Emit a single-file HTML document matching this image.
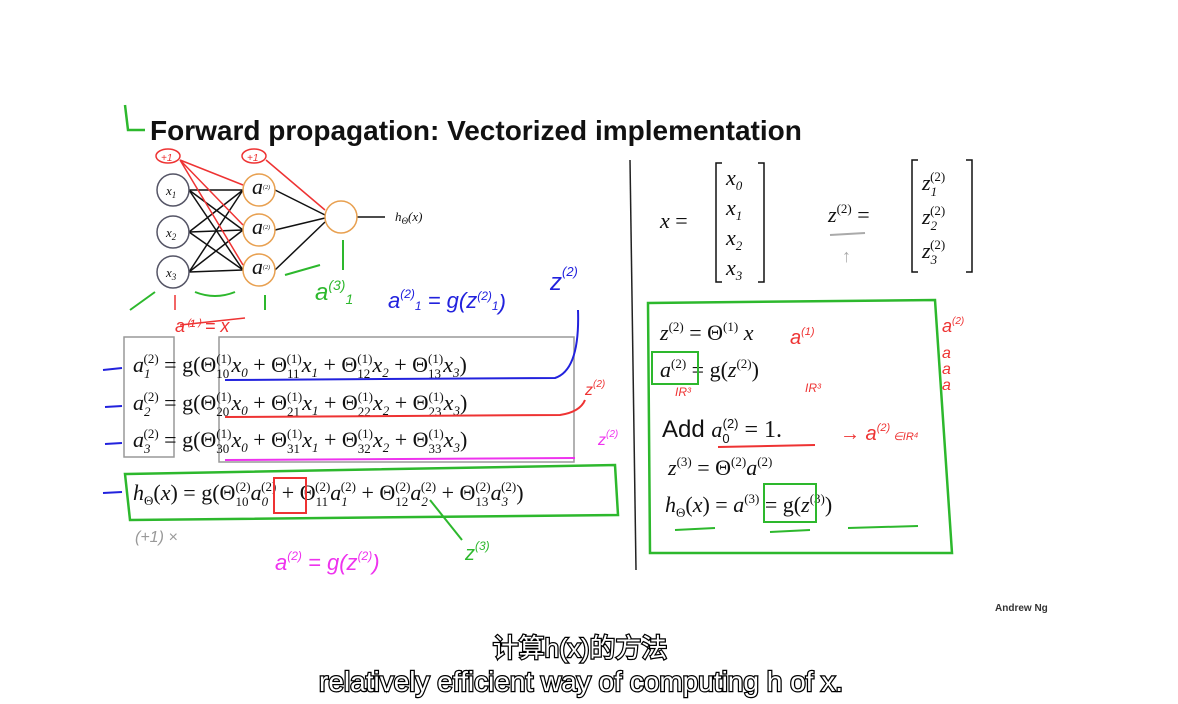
<!DOCTYPE html>
<html><head><meta charset="utf-8"><style>
html,body{margin:0;padding:0;background:#fff;}
svg{display:block}
.m{font-family:"Liberation Serif",serif;font-style:italic;font-size:22px;fill:#111}
.s{font-size:13px}
.hand{font-family:"Liberation Sans",sans-serif;font-style:italic}
</style></head><body>
<svg width="1178" height="704" viewBox="0 0 1178 704" xmlns="http://www.w3.org/2000/svg">
<rect width="1178" height="704" fill="#fff"/>
<path d="M125 105 L128 130 L145 130" stroke="#2db82d" stroke-width="2.5" fill="none"/>
<text x="150" y="140" font-family="Liberation Sans,sans-serif" font-weight="bold" font-size="28" fill="#111">Forward propagation: Vectorized implementation</text>
<line x1="630" y1="160" x2="636" y2="570" stroke="#222" stroke-width="1.5"/>

<g stroke="#111" stroke-width="1.5">
<line x1="189" y1="190" x2="243" y2="190"/><line x1="189" y1="190" x2="243" y2="230"/><line x1="189" y1="190" x2="243" y2="270"/>
<line x1="189" y1="232" x2="243" y2="190"/><line x1="189" y1="232" x2="243" y2="230"/><line x1="189" y1="232" x2="243" y2="270"/>
<line x1="189" y1="272" x2="243" y2="190"/><line x1="189" y1="272" x2="243" y2="230"/><line x1="189" y1="272" x2="243" y2="270"/>
<line x1="275" y1="190" x2="325" y2="215"/><line x1="275" y1="230" x2="325" y2="218"/><line x1="275" y1="270" x2="325" y2="222"/>
<line x1="357" y1="217" x2="385" y2="217"/>
</g>
<g fill="#fff" stroke-width="1.5">
<circle cx="173" cy="190" r="16" stroke="#556"/>
<circle cx="173" cy="232" r="16" stroke="#556"/>
<circle cx="173" cy="272" r="16" stroke="#556"/>
<circle cx="259" cy="190" r="16" stroke="#e8a050"/>
<circle cx="259" cy="230" r="16" stroke="#e8a050"/>
<circle cx="259" cy="270" r="16" stroke="#e8a050"/>
<circle cx="341" cy="217" r="16" stroke="#e8a050"/>
</g>
<text class="m s" x="166" y="195">x<tspan font-size="9" dy="3">1</tspan></text>
<text class="m s" x="166" y="237">x<tspan font-size="9" dy="3">2</tspan></text>
<text class="m s" x="166" y="277">x<tspan font-size="9" dy="3">3</tspan></text>
<text class="m" font-size="10" x="252" y="194">a<tspan font-size="6" dy="-5">(2)</tspan></text>
<text class="m" font-size="10" x="252" y="234">a<tspan font-size="6" dy="-5">(2)</tspan></text>
<text class="m" font-size="10" x="252" y="274">a<tspan font-size="6" dy="-5">(2)</tspan></text>
<text class="m s" x="395" y="221">h<tspan font-size="9" dy="3">Θ</tspan><tspan dy="-3">(x)</tspan></text>
<g stroke="#e33" stroke-width="1.5" fill="none">
<ellipse cx="168" cy="156" rx="12" ry="7"/><ellipse cx="254" cy="156" rx="12" ry="7"/>
<path d="M180 160 L243 185 M180 160 L243 225 M180 160 L243 265 M266 160 L325 210"/>
<path d="M175 295 L175 310 M180 325 L245 318"/>
</g>
<text x="161" y="161" font-size="10" fill="#e33" class="hand">+1</text>
<text x="247" y="161" font-size="10" fill="#e33" class="hand">+1</text>
<text x="175" y="332" font-size="18" fill="#e33" class="hand">a⁽¹⁾ = x</text>
<g stroke="#2db82d" stroke-width="2" fill="none"><path d="M130 310 L155 292 M195 292 Q215 300 235 292 M265 310 L265 295 M285 275 L320 265 M343 270 L343 240"/></g>
<text x="315" y="300" font-size="24" fill="#2db82d" class="hand">a<tspan font-size="14" dy="-10">(3)</tspan><tspan font-size="14" dy="14">1</tspan></text>
<text x="388" y="308" font-size="22" fill="#22d" class="hand">a<tspan font-size="12" dy="-10">(2)</tspan><tspan font-size="12" dy="12">1</tspan><tspan dy="-2"> = g(z<tspan font-size="12" dy="-8">(2)</tspan><tspan font-size="12" dy="10">1</tspan>)</tspan></text>
<text x="550" y="290" font-size="24" fill="#22d" class="hand">z<tspan font-size="13" dy="-14">(2)</tspan></text>

<g>
<rect x="124" y="337" width="50" height="120" fill="none" stroke="#999" stroke-width="1.5"/>
<rect x="219" y="337" width="355" height="125" fill="none" stroke="#999" stroke-width="1.5"/>
<text class="m" x="133" y="372">a<tspan font-size="13" dy="6">1</tspan><tspan font-size="13" dx="-7" dy="-15" font-style="normal">(2)</tspan><tspan dy="9" font-style="normal"> = g(Θ</tspan><tspan font-size="13" dy="6" font-style="normal">10</tspan><tspan font-size="13" dx="-13" dy="-15" font-style="normal">(1)</tspan><tspan dy="9">x</tspan><tspan font-size="13" dy="5">0</tspan><tspan dy="-5" font-style="normal"> + Θ</tspan><tspan font-size="13" dy="6" font-style="normal">11</tspan><tspan font-size="13" dx="-13" dy="-15" font-style="normal">(1)</tspan><tspan dy="9">x</tspan><tspan font-size="13" dy="5">1</tspan><tspan dy="-5" font-style="normal"> + Θ</tspan><tspan font-size="13" dy="6" font-style="normal">12</tspan><tspan font-size="13" dx="-13" dy="-15" font-style="normal">(1)</tspan><tspan dy="9">x</tspan><tspan font-size="13" dy="5">2</tspan><tspan dy="-5" font-style="normal"> + Θ</tspan><tspan font-size="13" dy="6" font-style="normal">13</tspan><tspan font-size="13" dx="-13" dy="-15" font-style="normal">(1)</tspan><tspan dy="9">x</tspan><tspan font-size="13" dy="5">3</tspan><tspan dy="-5" font-style="normal">)</tspan></text>
<text class="m" x="133" y="410">a<tspan font-size="13" dy="6">2</tspan><tspan font-size="13" dx="-7" dy="-15" font-style="normal">(2)</tspan><tspan dy="9" font-style="normal"> = g(Θ</tspan><tspan font-size="13" dy="6" font-style="normal">20</tspan><tspan font-size="13" dx="-13" dy="-15" font-style="normal">(1)</tspan><tspan dy="9">x</tspan><tspan font-size="13" dy="5">0</tspan><tspan dy="-5" font-style="normal"> + Θ</tspan><tspan font-size="13" dy="6" font-style="normal">21</tspan><tspan font-size="13" dx="-13" dy="-15" font-style="normal">(1)</tspan><tspan dy="9">x</tspan><tspan font-size="13" dy="5">1</tspan><tspan dy="-5" font-style="normal"> + Θ</tspan><tspan font-size="13" dy="6" font-style="normal">22</tspan><tspan font-size="13" dx="-13" dy="-15" font-style="normal">(1)</tspan><tspan dy="9">x</tspan><tspan font-size="13" dy="5">2</tspan><tspan dy="-5" font-style="normal"> + Θ</tspan><tspan font-size="13" dy="6" font-style="normal">23</tspan><tspan font-size="13" dx="-13" dy="-15" font-style="normal">(1)</tspan><tspan dy="9">x</tspan><tspan font-size="13" dy="5">3</tspan><tspan dy="-5" font-style="normal">)</tspan></text>
<text class="m" x="133" y="447">a<tspan font-size="13" dy="6">3</tspan><tspan font-size="13" dx="-7" dy="-15" font-style="normal">(2)</tspan><tspan dy="9" font-style="normal"> = g(Θ</tspan><tspan font-size="13" dy="6" font-style="normal">30</tspan><tspan font-size="13" dx="-13" dy="-15" font-style="normal">(1)</tspan><tspan dy="9">x</tspan><tspan font-size="13" dy="5">0</tspan><tspan dy="-5" font-style="normal"> + Θ</tspan><tspan font-size="13" dy="6" font-style="normal">31</tspan><tspan font-size="13" dx="-13" dy="-15" font-style="normal">(1)</tspan><tspan dy="9">x</tspan><tspan font-size="13" dy="5">1</tspan><tspan dy="-5" font-style="normal"> + Θ</tspan><tspan font-size="13" dy="6" font-style="normal">32</tspan><tspan font-size="13" dx="-13" dy="-15" font-style="normal">(1)</tspan><tspan dy="9">x</tspan><tspan font-size="13" dy="5">2</tspan><tspan dy="-5" font-style="normal"> + Θ</tspan><tspan font-size="13" dy="6" font-style="normal">33</tspan><tspan font-size="13" dx="-13" dy="-15" font-style="normal">(1)</tspan><tspan dy="9">x</tspan><tspan font-size="13" dy="5">3</tspan><tspan dy="-5" font-style="normal">)</tspan></text>
<text class="m" x="133" y="500">h<tspan font-size="13" dy="5" font-style="normal">Θ</tspan><tspan dy="-5" font-style="normal">(</tspan>x<tspan font-style="normal">) = g(Θ</tspan><tspan font-size="13" dy="6" font-style="normal">10</tspan><tspan font-size="13" dx="-13" dy="-15" font-style="normal">(2)</tspan><tspan dy="9">a</tspan><tspan font-size="13" dy="6">0</tspan><tspan font-size="13" dx="-7" dy="-15" font-style="normal">(2)</tspan><tspan dy="9" font-style="normal"> + Θ</tspan><tspan font-size="13" dy="6" font-style="normal">11</tspan><tspan font-size="13" dx="-13" dy="-15" font-style="normal">(2)</tspan><tspan dy="9">a</tspan><tspan font-size="13" dy="6">1</tspan><tspan font-size="13" dx="-7" dy="-15" font-style="normal">(2)</tspan><tspan dy="9" font-style="normal"> + Θ</tspan><tspan font-size="13" dy="6" font-style="normal">12</tspan><tspan font-size="13" dx="-13" dy="-15" font-style="normal">(2)</tspan><tspan dy="9">a</tspan><tspan font-size="13" dy="6">2</tspan><tspan font-size="13" dx="-7" dy="-15" font-style="normal">(2)</tspan><tspan dy="9" font-style="normal"> + Θ</tspan><tspan font-size="13" dy="6" font-style="normal">13</tspan><tspan font-size="13" dx="-13" dy="-15" font-style="normal">(2)</tspan><tspan dy="9">a</tspan><tspan font-size="13" dy="6">3</tspan><tspan font-size="13" dx="-7" dy="-15" font-style="normal">(2)</tspan><tspan dy="9" font-style="normal">)</tspan></text>
</g>
<g fill="none" stroke-width="2">
<path d="M225 380 L555 378 Q580 370 578 310" stroke="#22d"/>
<path d="M225 417 L560 415 Q580 412 585 400" stroke="#e33"/>
<path d="M225 460 L575 458" stroke="#e3e"/>
<path d="M125 474 L615 465 L618 515 L130 520 Z" stroke="#2db82d" stroke-width="2.5"/>
<rect x="274" y="478" width="32" height="35" stroke="#e33"/>
<path d="M103 370 L122 368 M105 407 L122 406 M105 444 L122 443 M103 493 L122 492" stroke="#22d"/>
<path d="M430 500 L462 540" stroke="#2db82d"/>
</g>
<text x="585" y="395" font-size="16" fill="#e33" class="hand">z<tspan font-size="10" dy="-8">(2)</tspan></text>
<text x="598" y="445" font-size="16" fill="#e3e" class="hand">z<tspan font-size="10" dy="-8">(2)</tspan></text>
<text x="465" y="560" font-size="20" fill="#2db82d" class="hand">z<tspan font-size="12" dy="-10">(3)</tspan></text>
<text x="275" y="570" font-size="22" fill="#e3e" class="hand">a<tspan font-size="12" dy="-10">(2)</tspan><tspan dy="10"> = g(z</tspan><tspan font-size="12" dy="-10">(2)</tspan><tspan dy="10">)</tspan></text>
<text x="135" y="542" font-size="16" fill="#999" class="hand">(+1)  ×</text>

<g>
<text class="m" x="660" y="228">x <tspan font-style="normal">=</tspan></text>
<path d="M722 163 L716 163 L716 282 L722 282 M758 163 L764 163 L764 282 L758 282" stroke="#111" stroke-width="1.5" fill="none"/>
<text class="m" x="726" y="185">x<tspan font-size="13" dy="5">0</tspan></text>
<text class="m" x="726" y="215">x<tspan font-size="13" dy="5">1</tspan></text>
<text class="m" x="726" y="245">x<tspan font-size="13" dy="5">2</tspan></text>
<text class="m" x="726" y="275">x<tspan font-size="13" dy="5">3</tspan></text>
</g>
<g>
<text class="m" x="828" y="222">z<tspan font-size="13" dy="-9" font-style="normal">(2)</tspan><tspan dy="9" font-style="normal"> =</tspan></text>
<line x1="830" y1="235" x2="865" y2="233" stroke="#aaa" stroke-width="2"/>
<text x="842" y="262" font-size="18" fill="#aaa">↑</text>
<path d="M918 160 L912 160 L912 272 L918 272 M966 160 L972 160 L972 272 L966 272" stroke="#111" stroke-width="1.5" fill="none"/>
<text class="m" x="922" y="190">z<tspan font-size="13" dy="6">1</tspan><tspan font-size="13" dx="-7" dy="-15" font-style="normal">(2)</tspan></text>
<text class="m" x="922" y="224">z<tspan font-size="13" dy="6">2</tspan><tspan font-size="13" dx="-7" dy="-15" font-style="normal">(2)</tspan></text>
<text class="m" x="922" y="258">z<tspan font-size="13" dy="6">3</tspan><tspan font-size="13" dx="-7" dy="-15" font-style="normal">(2)</tspan></text>
</g>
<g>
<path d="M648 303 L935 300 L952 553 L650 553 Z" fill="none" stroke="#2db82d" stroke-width="2.5"/>
<text class="m" x="660" y="340">z<tspan font-size="13" dy="-9" font-style="normal">(2)</tspan><tspan dy="9" font-style="normal"> = Θ</tspan><tspan font-size="13" dy="-9" font-style="normal">(1)</tspan><tspan dy="9"> x</tspan></text>
<text class="m" x="660" y="377">a<tspan font-size="13" dy="-9" font-style="normal">(2)</tspan><tspan dy="9" font-style="normal"> = g(</tspan>z<tspan font-size="13" dy="-9" font-style="normal">(2)</tspan><tspan dy="9" font-style="normal">)</tspan></text>
<rect x="652" y="352" width="46" height="32" fill="none" stroke="#2db82d" stroke-width="2"/>
<text x="662" y="437" font-family="Liberation Sans,sans-serif" font-size="24" fill="#111">Add <tspan class="m" font-size="22">a</tspan><tspan font-size="13" dy="6">0</tspan><tspan font-size="13" dx="-7" dy="-15">(2)</tspan><tspan dy="9" font-family="Liberation Serif,serif"> = 1.</tspan></text>
<line x1="718" y1="447" x2="815" y2="445" stroke="#e33" stroke-width="2"/>
<text class="m" x="668" y="475">z<tspan font-size="13" dy="-9" font-style="normal">(3)</tspan><tspan dy="9" font-style="normal"> = Θ</tspan><tspan font-size="13" dy="-9" font-style="normal">(2)</tspan><tspan dy="9">a</tspan><tspan font-size="13" dy="-9" font-style="normal">(2)</tspan></text>
<text class="m" x="665" y="512">h<tspan font-size="13" dy="5" font-style="normal">Θ</tspan><tspan dy="-5" font-style="normal">(</tspan>x<tspan font-style="normal">) = </tspan>a<tspan font-size="13" dy="-9" font-style="normal">(3)</tspan><tspan dy="9" font-style="normal"> = g(</tspan>z<tspan font-size="13" dy="-9" font-style="normal">(3)</tspan><tspan dy="9" font-style="normal">)</tspan></text>
<rect x="764" y="484" width="52" height="38" fill="none" stroke="#2db82d" stroke-width="2"/>
<path d="M675 530 L715 528 M770 532 L810 530 M848 528 L918 526" stroke="#2db82d" stroke-width="2"/>
</g>
<g fill="#e33" class="hand">
<text x="790" y="344" font-size="20">a<tspan font-size="11" dy="-9">(1)</tspan></text>
<text x="675" y="396" font-size="12">IR³</text><text x="805" y="392" font-size="12">IR³</text>
<text x="840" y="440" font-size="20">→ a<tspan font-size="11" dy="-9">(2)</tspan><tspan font-size="11" dy="9"> ∈IR⁴</tspan></text>
<text x="942" y="332" font-size="18">a<tspan font-size="10" dy="-8">(2)</tspan></text>
<text x="942" y="358" font-size="16">a</text><text x="942" y="374" font-size="16">a</text><text x="942" y="390" font-size="16">a</text>
</g>
<text x="995" y="611" font-family="Liberation Sans,sans-serif" font-weight="bold" font-size="10" fill="#333">Andrew Ng</text>
<g font-family="Liberation Sans,'Noto Sans CJK SC',sans-serif" text-anchor="middle" fill="#fff" stroke="#000" stroke-width="2.5" paint-order="stroke">
<text x="580" y="657" font-size="26">计算h(x)的方法</text>
<text x="581" y="691" font-size="28">relatively efficient way of computing h of x.</text>
</g>
</svg>
</body></html>
